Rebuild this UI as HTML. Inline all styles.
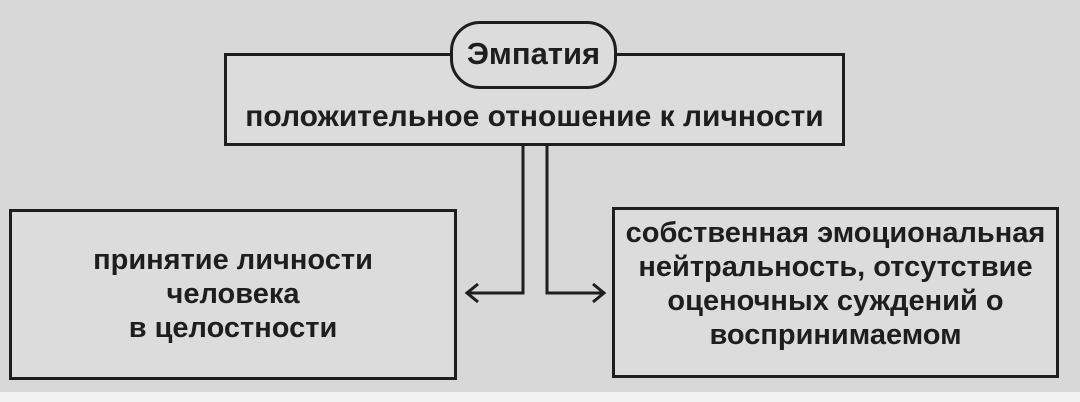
<!DOCTYPE html>
<html><head><meta charset="utf-8"><style>
html,body{margin:0;padding:0}
body{width:1080px;height:402px;background:#f2f2f2;position:relative;overflow:hidden;font-family:"Liberation Sans Narrow","Liberation Sans",sans-serif;font-weight:bold;color:#1e1e1e}
.bg{position:absolute;left:0;top:0;width:1080px;height:392px;background:#d8d8d8}
.box{position:absolute;border:3px solid #1e1e1e;box-sizing:border-box;background:#dcdcdc}
.t{position:absolute;text-align:center;font-size:29px;line-height:34px;white-space:nowrap}
</style></head><body>
<div class="bg"></div>
<div class="box" style="left:224px;top:53px;width:621px;height:93px"></div>
<div class="box" style="left:450px;top:21px;width:167px;height:68px;border-radius:30px;background:#dcdcdc"></div>
<div class="t" style="left:450px;top:37px;width:167px;font-size:31px">Эмпатия</div>
<div class="t" style="left:224px;top:100px;width:621px;font-size:30px">положительное отношение к личности</div>
<div class="box" style="left:9px;top:209px;width:448px;height:171px"></div>
<div class="t" style="left:9px;top:243px;width:448px">принятие личности<br>человека<br>в целостности</div>
<div class="box" style="left:612px;top:207px;width:447px;height:171px"></div>
<div class="t" style="left:612px;top:216px;width:447px">собственная эмоциональная<br>нейтральность, отсутствие<br>оценочных суждений о<br>воспринимаемом</div>
<svg style="position:absolute;left:0;top:0" width="1080" height="402">
<g stroke="#1e1e1e" stroke-width="3" fill="none">
<polyline points="523,146 523,293 467,293"/>
<polyline points="478,284 467,293 478,302"/>
<polyline points="547,146 547,293 604,293"/>
<polyline points="593,284 604,293 593,302"/>
</g></svg>
</body></html>
